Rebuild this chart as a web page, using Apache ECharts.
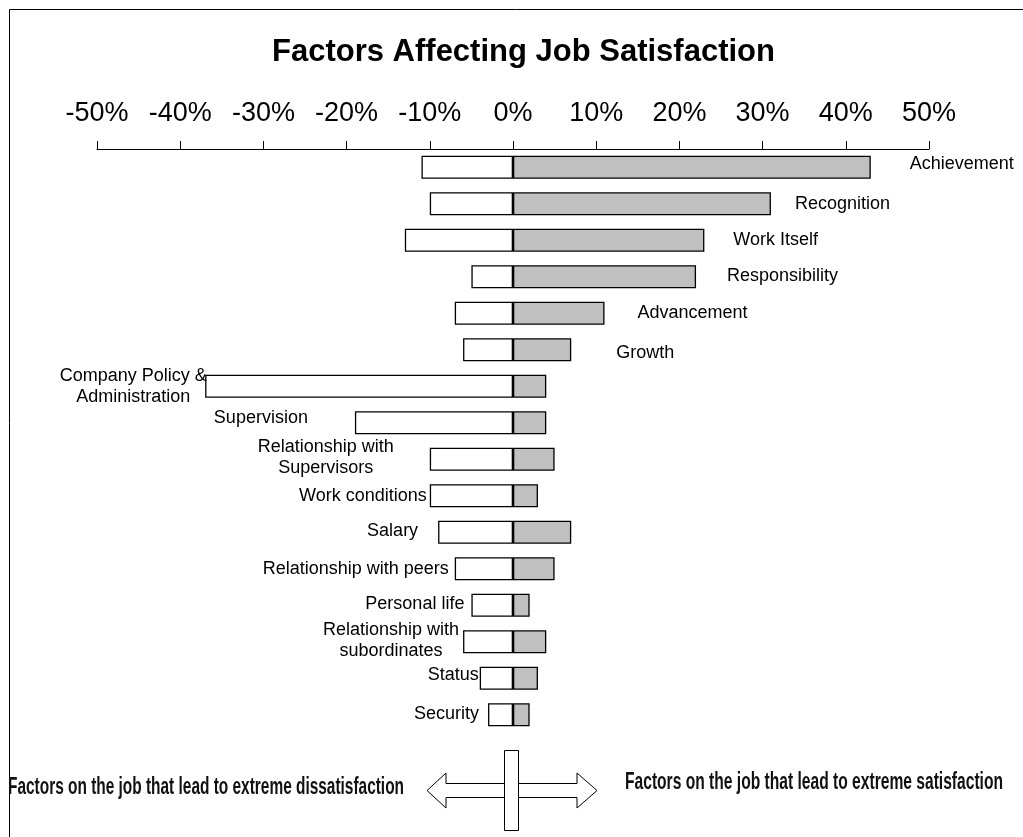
<!DOCTYPE html>
<html>
<head>
<meta charset="utf-8">
<script src="https://cdn.jsdelivr.net/npm/echarts@6/dist/echarts.min.js"></script>
<style>
html,body{margin:0;padding:0;background:#fff;}
#chart{width:1023px;height:837px;}
</style>
</head>
<body>
<div id="chart"></div>
<script>
// ---- data ----
var categories = ['Achievement','Recognition','Work Itself','Responsibility','Advancement','Growth',
  'Company Policy &\nAdministration','Supervision','Relationship with\nSupervisors','Work conditions',
  'Salary','Relationship with peers','Personal life','Relationship with\nsubordinates','Status','Security'];
var dissatisfaction = [-11,-10,-13,-5,-7,-6,-37,-19,-10,-10,-9,-7,-5,-6,-4,-3];
var satisfaction = [43,31,23,22,11,7,4,4,5,3,7,5,2,4,3,2];
var tickLabels = ['-50%','-40%','-30%','-20%','-10%','0%','10%','20%','30%','40%','50%'];
var titleText = 'Factors Affecting Job Satisfaction';
var leftNote = 'Factors on the job that lead to extreme dissatisfaction';
var rightNote = 'Factors on the job that lead to extreme satisfaction';
var satisfierCount = 6; // first six rows are labelled on the satisfaction side

// ---- label layout (gap from bar end, vertical nudge, centered multi-line) ----
var labelLayout = [
  {g:39,dy:-3},{g:24,dy:0},{g:29,dy:0},{g:31,dy:-1},{g:33,dy:0},{g:45,dy:3},
  {g:72,dy:0,c:true},{g:47,dy:-5},{g:104,dy:-2,c:true},{g:3,dy:0},
  {g:20,dy:-1},{g:6,dy:0},{g:7,dy:-1},{g:72,dy:-1,c:true},{g:1,dy:-3},{g:9,dy:-1}
];

var FONT = 'Arial, "Liberation Sans", sans-serif';
var labelBase = {show:true,color:'#000',fontFamily:FONT,fontSize:18,lineHeight:21};

var negData = dissatisfaction.map(function(v,i){
  var o = {value:v};
  if (i >= satisfierCount) {
    var L = labelLayout[i];
    o.label = Object.assign({}, labelBase, {position:'left',distance:L.g,offset:[0,L.dy],
      align: L.c ? 'center' : 'right', formatter: categories[i]});
  }
  return o;
});
var posData = satisfaction.map(function(v,i){
  var o = {value:v};
  if (i < satisfierCount) {
    var L = labelLayout[i];
    o.label = Object.assign({}, labelBase, {position:'right',distance:L.g,offset:[0,L.dy],
      formatter: categories[i]});
  }
  return o;
});

// measure note text to compress it like the reference
function measure(txt, font){
  var c = document.createElement('canvas').getContext('2d');
  c.font = font; return c.measureText(txt).width;
}
var noteFont = 'bold 23px Arial, "Liberation Sans", sans-serif';
var leftScale = 396 / measure(leftNote, noteFont);
var rightScale = 378 / measure(rightNote, noteFont);

var chart = echarts.init(document.getElementById('chart'));
chart.setOption({
  backgroundColor:'#fff',
  animation:false,
  title:{text:titleText,left:267,top:32,
    textStyle:{fontFamily:FONT,fontSize:31,fontWeight:'bold',color:'#000'}},
  grid:{left:97,right:94,top:149,bottom:104},
  xAxis:{type:'value',position:'top',min:-50,max:50,interval:10,
    axisLine:{show:true,lineStyle:{color:'#000',width:1}},
    axisTick:{show:true,length:8,lineStyle:{color:'#000'}},
    splitLine:{show:false},
    axisLabel:{margin:22,fontFamily:FONT,fontSize:27,color:'#000',
      formatter:function(v){ return tickLabels[Math.round((v+50)/10)]; }}
  },
  yAxis:{type:'category',data:categories,inverse:true,
    axisLine:{show:false},axisTick:{show:false},axisLabel:{show:false},splitLine:{show:false}},
  series:[
    {type:'bar',name:'dissatisfaction',data:negData,barWidth:23,barGap:'-100%',
      itemStyle:{color:'#fff',borderColor:'#000',borderWidth:1.3}},
    {type:'bar',name:'satisfaction',data:posData,barWidth:23,barGap:'-100%',
      itemStyle:{color:'#c0c0c0',borderColor:'#000',borderWidth:1.3}}
  ],
  graphic:[
    {type:'rect',silent:true,z:-1,shape:{x:9.5,y:9.5,width:1100,height:1000},
      style:{fill:null,stroke:'#000',lineWidth:1}},
    {type:'polygon',silent:true,shape:{points:[[427,790.5],[446,773],[446,783.5],[577,783.5],[577,773],
      [597,790.5],[577,808],[577,797.5],[446,797.5],[446,808]]},
      style:{fill:'#fff',stroke:'#000',lineWidth:1}},
    {type:'rect',silent:true,shape:{x:504.5,y:750.5,width:14,height:80},
      style:{fill:'#fff',stroke:'#000',lineWidth:1}},
    {type:'text',silent:true,x:8,y:788,scaleX:leftScale,
      style:{text:leftNote,font:noteFont,fill:'#111',verticalAlign:'middle',align:'left'}},
    {type:'text',silent:true,x:625,y:783,scaleX:rightScale,
      style:{text:rightNote,font:noteFont,fill:'#111',verticalAlign:'middle',align:'left'}}
  ]
});
</script>
</body>
</html>
